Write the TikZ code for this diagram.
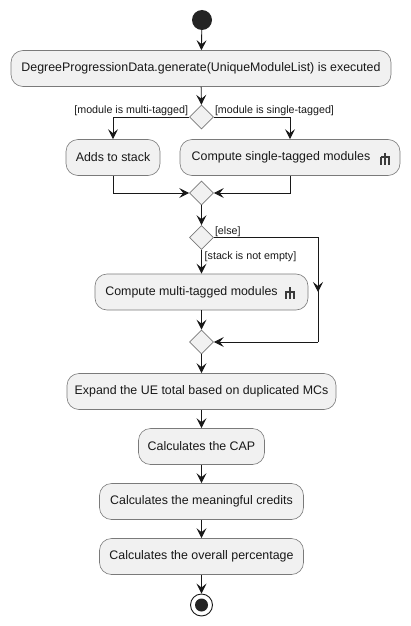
\documentclass[tikz,border=0pt]{standalone}
\usepackage{fontspec}
\setmainfont{Liberation Sans}
\usetikzlibrary{arrows.meta,shapes.geometric,calc}
\definecolor{ln}{HTML}{181818}
\definecolor{bx}{HTML}{F1F1F1}
\definecolor{bd}{HTML}{7A7A7A}
\begin{document}
\begin{tikzpicture}[x=1pt,y=-1pt,
  act/.style={draw=bd,fill=bx,line width=0.6pt,rounded corners=12pt,minimum height=36pt,inner xsep=0pt,font=\fontsize{12.4}{14}\selectfont,text=ln},
  dec/.style={draw=bd,fill=bx,line width=0.6pt,shape=diamond,minimum width=24pt,minimum height=24pt,inner sep=0pt},
  lbl/.style={font=\fontsize{10.7}{12}\selectfont,text=ln,inner sep=1pt},
  arr/.style={draw=ln,line width=0.9pt,-{Stealth[length=10pt,width=10pt,inset=4pt]}},
  ln/.style={draw=ln,line width=0.9pt},
  rake/.style={draw=ln!85,line width=2pt}]
\useasboundingbox (0,0) rectangle (410,626);
\newcommand{\rakeicon}[1]{%
  \draw[rake] ($(#1)+(0,-6)$) -- ($(#1)+(0,6)$);
  \draw[rake] ($(#1)+(-4.5,-1.5)$) -- ($(#1)+(4.5,-1.5)$);
  \draw[rake] ($(#1)+(-4,-2)$) -- ($(#1)+(-4,6)$);
  \draw[rake] ($(#1)+(4,-2)$) -- ($(#1)+(4,6)$);}
% nodes
\node[circle,fill=ln!95,minimum size=20pt,inner sep=0pt] (start) at (202,20) {};
\node[act,minimum width=380pt] (gen) at (201,68.5) {DegreeProgressionData.generate(UniqueModuleList) is executed};
\node[dec] (d1) at (201.5,117) {};
\node[act,minimum width=94pt] (adds) at (113,157.5) {Adds to stack};
\node[act,minimum width=220pt] (single) at (290,157.5) {\hspace*{-18pt}Compute single-tagged modules};
\node[dec] (d2) at (201.5,193) {};
\node[dec] (d3) at (201.5,237.5) {};
\node[act,minimum width=213pt] (multi) at (201.5,292) {\hspace*{-20pt}Compute multi-tagged modules};
\node[dec] (d4) at (201.5,342) {};
\node[act,minimum width=269pt] (ue) at (201.5,391.5) {Expand the UE total based on duplicated MCs};
\node[act,minimum width=126pt] (cap) at (201.5,446.5) {Calculates the CAP};
\node[act,minimum width=204pt] (mean) at (201.5,501.5) {Calculates the meaningful credits};
\node[act,minimum width=204pt] (perc) at (201.5,556.5) {Calculates the overall percentage};
\node[circle,draw=ln,line width=0.9pt,fill=white,minimum size=22pt,inner sep=0pt] (stop) at (201.5,605) {};
\fill[ln!95] (stop.center) circle (6.5pt);
\coordinate (c1) at (318,237.5);
\coordinate (c2) at (318,342);
\coordinate (c3) at (318,292);
% icons
\rakeicon{$(single.east)+(-15,1)$}
\rakeicon{$(multi.east)+(-18,1)$}
% connectors
\draw[arr] (start) -- (gen);
\draw[arr] (gen) -- (d1);
\draw[arr] (d1.west) -| (adds.north);
\draw[arr] (d1.east) -| (single.north);
\node[lbl,anchor=south east] at (d1.west) {[module is multi-tagged]};
\node[lbl,anchor=south west] at (d1.east) {[module is single-tagged]};
\draw[arr] (adds.south) |- (d2.west);
\draw[arr] (single.south) |- (d2.east);
\draw[arr] (d2) -- (d3);
\draw[arr] (d3) -- (multi);
\node[lbl,anchor=north west] at ($(d3.south)+(2,1)$) {[stack is not empty]};
\node[lbl,anchor=south west] at (d3.east) {[else]};
\draw[ln] (d3.east) -- (c1) -- (c2);
\draw[arr] (c1) -- (c3);
\draw[arr] (c2) -- (d4.east);
\draw[arr] (multi) -- (d4);
\draw[arr] (d4) -- (ue);
\draw[arr] (ue) -- (cap);
\draw[arr] (cap) -- (mean);
\draw[arr] (mean) -- (perc);
\draw[arr] (perc) -- (stop);
\end{tikzpicture}
\end{document}
